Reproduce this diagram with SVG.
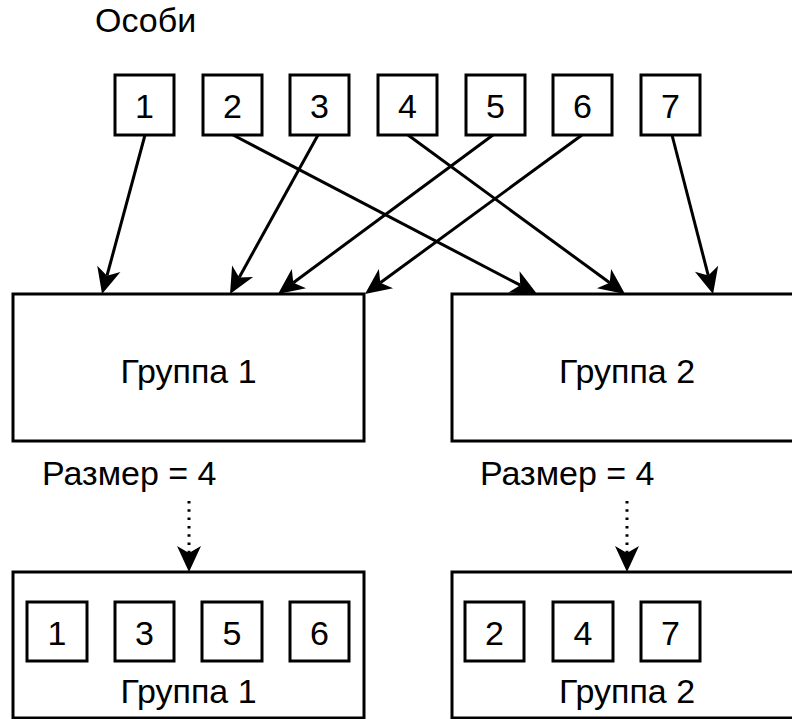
<svg xmlns="http://www.w3.org/2000/svg" width="792" height="719" viewBox="0 0 792 719">
  <style>
    .box { fill: #ffffff; stroke: #000000; stroke-width: 3; }
    .lbl { font-family: "Liberation Sans", Arial, sans-serif; font-size: 34px; fill: #000000; }
    .mid { text-anchor: middle; }
    .edge { stroke: #000000; stroke-width: 3; fill: none; marker-end: url(#head); }
    .dotted { stroke-dasharray: 2.5 5.8; }
  </style>
  <defs>
    <!-- filled arrowhead with a notched back; the line ends at the notch -->
    <marker id="head" markerUnits="userSpaceOnUse" markerWidth="27" markerHeight="25" refX="7" refY="12" orient="auto" overflow="visible">
      <path d="M0,0 L26,12 L0,24 L7,12 Z" fill="#000000"/>
    </marker>
  </defs>

  <rect width="792" height="719" fill="#ffffff"/>

  <text id="title" class="lbl" x="95" y="32">Особи</text>

  <!-- individuals -->
  <g id="ind1"><rect class="box" x="115" y="75" width="59" height="60"/><text class="lbl mid" x="144.5" y="118">1</text></g>
  <g id="ind2"><rect class="box" x="203" y="75" width="59" height="60"/><text class="lbl mid" x="232.5" y="118">2</text></g>
  <g id="ind3"><rect class="box" x="290" y="75" width="59" height="60"/><text class="lbl mid" x="319.5" y="118">3</text></g>
  <g id="ind4"><rect class="box" x="378" y="75" width="59" height="60"/><text class="lbl mid" x="407.5" y="118">4</text></g>
  <g id="ind5"><rect class="box" x="466" y="75" width="59" height="60"/><text class="lbl mid" x="495.5" y="118">5</text></g>
  <g id="ind6"><rect class="box" x="553" y="75" width="59" height="60"/><text class="lbl mid" x="582.5" y="118">6</text></g>
  <g id="ind7"><rect class="box" x="641" y="75" width="59" height="60"/><text class="lbl mid" x="670.5" y="118">7</text></g>

  <!-- groups -->
  <g id="group1"><rect class="box" x="13" y="294" width="351" height="147"/><text class="lbl mid" x="188.5" y="383">Группа 1</text></g>
  <g id="group2"><rect class="box" x="452" y="294" width="351" height="147"/><text class="lbl mid" x="627" y="383">Группа 2</text></g>

  <g id="size1"><text class="lbl" x="42" y="485">Размер = 4</text></g>
  <g id="size2"><text class="lbl" x="480" y="485">Размер = 4</text></g>

  <!-- resulting groups -->
  <g id="result1">
    <rect class="box" x="13" y="572" width="351" height="146"/>
    <rect class="box" x="27" y="602" width="60" height="59"/><text class="lbl mid" x="57" y="645">1</text>
    <rect class="box" x="115" y="602" width="59" height="59"/><text class="lbl mid" x="144.5" y="645">3</text>
    <rect class="box" x="202" y="602" width="60" height="59"/><text class="lbl mid" x="232" y="645">5</text>
    <rect class="box" x="290" y="602" width="59" height="59"/><text class="lbl mid" x="319.5" y="645">6</text>
    <text class="lbl mid" x="188.5" y="703">Группа 1</text>
  </g>
  <g id="result2">
    <rect class="box" x="452" y="572" width="351" height="146"/>
    <rect class="box" x="465" y="602" width="59" height="59"/><text class="lbl mid" x="494.5" y="645">2</text>
    <rect class="box" x="553" y="602" width="60" height="59"/><text class="lbl mid" x="583" y="645">4</text>
    <rect class="box" x="641" y="602" width="59" height="59"/><text class="lbl mid" x="670.5" y="645">7</text>
    <text class="lbl mid" x="627" y="703">Группа 2</text>
  </g>

  <!-- connectors -->
  <g id="connectors">
    <line class="edge" x1="145" y1="135" x2="107" y2="275.7"/>
    <line class="edge" x1="233" y1="135" x2="520.2" y2="285.2"/>
    <line class="edge" x1="318" y1="135" x2="239.2" y2="277.4"/>
    <line class="edge" x1="408" y1="135" x2="609.7" y2="282.8"/>
    <line class="edge" x1="493" y1="135" x2="293.3" y2="282.7"/>
    <line class="edge" x1="582" y1="135" x2="380.3" y2="282.8"/>
    <line class="edge" x1="672" y1="135" x2="708.3" y2="275.6"/>
    <line class="edge dotted" x1="189" y1="501" x2="189" y2="553"/>
    <line class="edge dotted" x1="627" y1="501" x2="627" y2="553"/>
  </g>
</svg>
